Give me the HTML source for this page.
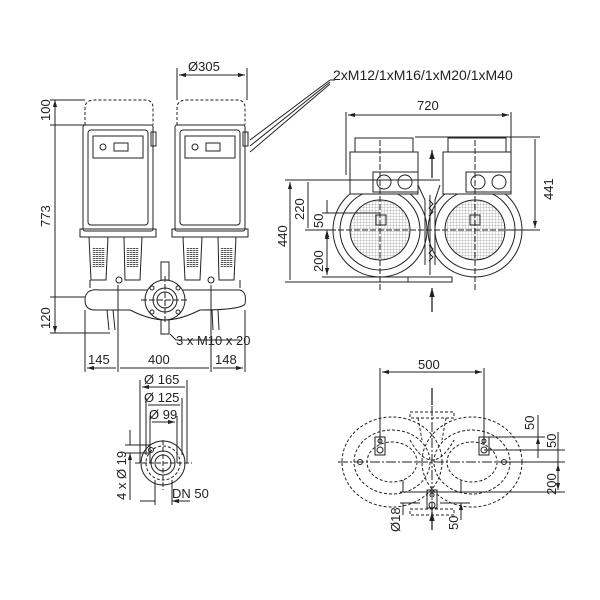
<!DOCTYPE html>
<html><head><meta charset="utf-8"><style>
html,body{margin:0;padding:0;background:#fff}
svg{display:block}
text{font-family:"Liberation Sans",sans-serif;font-size:13px;fill:#222}
</style></head><body>
<svg width="600" height="600" viewBox="0 0 600 600" xmlns="http://www.w3.org/2000/svg">
<defs>
<marker id="a" viewBox="0 0 10 10" refX="10" refY="5" markerWidth="7" markerHeight="7" orient="auto-start-reverse"><path d="M0,2 L10,5 L0,8 z" fill="#222"/></marker>
<pattern id="g" width="3" height="3" patternUnits="userSpaceOnUse"><path d="M0,0 H3 M0,0 V3" stroke="#777" stroke-width="0.5"/></pattern>
</defs>
<g fill="none" stroke="#222" stroke-width="1">
<path d="M85,125 V108 Q85,100 95,100 H145 Q153,100 153,108 V125" stroke-dasharray="3,2"/>
<path d="M177,125 V108 Q177,100 187,100 H237 Q245,100 245,108 V125" stroke-dasharray="3,2"/>
<rect x="83" y="125" width="70" height="106" rx="2"/>
<rect x="175" y="125" width="70" height="106" rx="2"/>
<rect x="88" y="130" width="60" height="95" rx="3"/>
<rect x="180" y="130" width="60" height="95" rx="3"/>
<rect x="93" y="136" width="50" height="22"/><rect x="185" y="136" width="50" height="22"/>
<circle cx="103" cy="147" r="3"/><rect x="114" y="143" width="14" height="8"/>
<circle cx="195" cy="147" r="3"/><rect x="206" y="143" width="14" height="8"/>
<rect x="151" y="132" width="5" height="14"/><rect x="243" y="132" width="5" height="14"/>
<rect x="80" y="229" width="76" height="8"/><rect x="172" y="229" width="76" height="8"/>
<path d="M89,237 L91,280 H106 L108,237 M124,237 L125,280 H140 L142,237 M183,237 L185,280 H200 L202,237 M218,237 L219,280 H234 L236,237"/>
<g stroke="#555" stroke-width="2.5" stroke-dasharray="1,1">
<path d="M94,248 V268 M97,248 V268 M100,248 V268 M103,248 V268 M128,248 V268 M131,248 V268 M134,248 V268 M137,248 V268 M188,248 V268 M191,248 V268 M194,248 V268 M197,248 V268 M222,248 V268 M225,248 V268 M228,248 V268 M231,248 V268"/>
</g>
<path d="M90,280 V288 M240,280 V288"/>
<path d="M85,300 Q85,288 100,290 H240 Q247,292 245,304 Q240,310 200,310 Q180,320 165,320 Q150,320 130,310 H95 Q85,310 85,300 Z" fill="#fff"/>
<path d="M107,310 L109,330 M113,310 L115,330 M212,310 L213,330 M218,310 L219,330"/>
<circle cx="165" cy="300" r="20" fill="#fff"/><circle cx="165" cy="300" r="12"/><circle cx="165" cy="300" r="8"/>
<circle cx="152" cy="288" r="2"/><circle cx="178" cy="288" r="2"/><circle cx="152" cy="312" r="2"/><circle cx="178" cy="312" r="2"/>
<rect x="161" y="262" width="8" height="18"/><rect x="161" y="320" width="8" height="14"/>
<circle cx="119" cy="280" r="3"/><circle cx="211" cy="280" r="3"/>
<path d="M141,300 H189 M165,276 V324" stroke-dasharray="6,2"/>
<path d="M50,100 H85 M50,125 H85 M50,297 H85 M50,333 H110 M177,68 V100 M247,68 V100"/>
<path d="M55,100 V125 M55,125 V297 M55,297 V333" marker-start="url(#a)" marker-end="url(#a)"/>
<path d="M179,75 H245" marker-start="url(#a)" marker-end="url(#a)"/>
<path d="M85,310 V372 M118,285 V372 M211,285 V372 M245,310 V372"/>
<path d="M87,368 H116 M120,368 H209 M213,368 H243" marker-start="url(#a)" marker-end="url(#a)"/>
<path d="M250,140 L330,80 M250,146 L330,82 M250,152 L330,84 M330,80 H335"/>
<path d="M170,334 L176,340 H240" />
<path d="M346,112 V175 M511,112 V175"/>
<path d="M348,115 H509" marker-start="url(#a)" marker-end="url(#a)"/>
<circle cx="380" cy="230" r="47"/><circle cx="380" cy="230" r="40"/><circle cx="380" cy="230" r="30" fill="url(#g)"/>
<circle cx="475" cy="230" r="47"/><circle cx="475" cy="230" r="40"/><circle cx="475" cy="230" r="30" fill="url(#g)"/>
<rect x="350" y="152" width="68" height="42" fill="#fff"/><rect x="355" y="138" width="58" height="14"/>
<rect x="443" y="152" width="68" height="42" fill="#fff"/><rect x="448" y="138" width="58" height="14"/>
<rect x="373" y="172" width="45" height="20"/><rect x="466" y="172" width="45" height="20"/>
<circle cx="384" cy="182" r="7"/><circle cx="405" cy="182" r="7"/><circle cx="478" cy="182" r="7"/><circle cx="499" cy="182" r="7"/>
<rect x="376" y="215" width="10" height="10"/><rect x="470" y="215" width="10" height="10"/>
<path d="M418,185 L425,200 V265 M440,185 L435,200 V265" />
<path d="M430,195 V275 M429,200 l4,4 -4,4 4,4 -4,4 M429,245 l4,4 -4,4 4,4 -4,4"/>
<rect x="408" y="277" width="44" height="5"/>
<path d="M432,178 V150" stroke-width="1.3" marker-end="url(#a)"/>
<path d="M432,312 V288" stroke-width="1.3" marker-end="url(#a)"/>
<path d="M380,140 V290 M475,140 V290 M330,230 H540" stroke-dasharray="6,2"/>
<path d="M285,180 H440 M285,282 H410 M305,230 H330 M322,213 H380 M322,277 H410 M415,137 H540 M510,230 H540"/>
<path d="M290,182 V280 M308,182 V228 M535,139 V228" marker-start="url(#a)" marker-end="url(#a)"/>
<path d="M327,200 V213 M327,243 V230" marker-end="url(#a)"/>
<path d="M327,232 V275" marker-start="url(#a)" marker-end="url(#a)"/>
<circle cx="163" cy="463" r="22"/><circle cx="163" cy="463" r="17" stroke-dasharray="3,2"/><circle cx="163" cy="463" r="12"/><circle cx="163" cy="463" r="8"/>
<circle cx="151" cy="450" r="2.5"/>
<path d="M140,380 V463 M187,380 V463 M146,398 V455 M182,398 V455 M150,416 V463 M177,416 V463 M155,480 V505 M172,480 V505"/>
<path d="M142,387 H185 M148,405 H180 M152,422 H175" marker-start="url(#a)" marker-end="url(#a)"/>
<path d="M125,445 H150 M125,453 H150"/>
<path d="M130,430 V445 M130,465 V453" marker-end="url(#a)"/>
<path d="M130,453 V500"/>
<path d="M140,501 H155 M190,501 H172" marker-end="url(#a)"/>
<path d="M135,463 H192 M163,440 V490" stroke-dasharray="5,2"/>
<path d="M380,368 V445 M484,368 V445"/>
<path d="M382,372 H482" marker-start="url(#a)" marker-end="url(#a)"/>
<path d="M338,462 H528 M432,390 V530" stroke-dasharray="10,2,2,2"/>
<path d="M432,405 V388 M432,530 V512" stroke-width="1.3" marker-end="url(#a)"/>
<g stroke-dasharray="3,2">
<ellipse cx="392" cy="462" rx="50" ry="45"/><ellipse cx="472" cy="462" rx="50" ry="45"/>
<ellipse cx="392" cy="462" rx="38" ry="32"/><ellipse cx="472" cy="462" rx="38" ry="32"/>
<ellipse cx="392" cy="462" rx="25" ry="20"/><ellipse cx="472" cy="462" rx="25" ry="20"/>
<rect x="410" y="412" width="44" height="6"/><rect x="410" y="509" width="44" height="6"/>
<path d="M418,418 L422,440 M446,418 L442,440 M410,440 Q432,480 454,440"/>
</g>
<rect x="375" y="437" width="10" height="18"/><rect x="479" y="437" width="10" height="18"/>
<circle cx="380" cy="441" r="2"/><circle cx="380" cy="450" r="3"/><circle cx="484" cy="441" r="2"/><circle cx="484" cy="450" r="3"/>
<circle cx="360" cy="462" r="2.5"/><circle cx="504" cy="462" r="2.5"/>
<rect x="427" y="490" width="10" height="18"/><circle cx="432" cy="495" r="2"/><circle cx="432" cy="505" r="3"/>
<path d="M484,437 H545 M484,450 H565 M500,462 H565 M400,492 H565 M400,503 H420 M440,503 H470"/>
<path d="M538,415 V437 M558,470 V450 M538,458 V437" marker-end="url(#a)"/>
<path d="M558,452 V432"/>
<path d="M558,464 V490" marker-start="url(#a)" marker-end="url(#a)"/>
<path d="M403,480 V492 M403,515 V503 M461,480 V492 M461,520 V503" marker-end="url(#a)"/>
</g>
<text x="188" y="71">Ø305</text>
<text transform="translate(50,121) rotate(-90)">100</text>
<text transform="translate(50,227) rotate(-90)">773</text>
<text transform="translate(50,329) rotate(-90)">120</text>
<text x="88" y="364">145</text>
<text x="148" y="364">400</text>
<text x="215" y="364">148</text>
<text x="176" y="345">3 x M10 x 20</text>
<text x="333" y="80" style="font-size:14px">2xM12/1xM16/1xM20/1xM40</text>
<text x="417" y="110">720</text>
<text transform="translate(553,200) rotate(-90)">441</text>
<text transform="translate(287,247) rotate(-90)">440</text>
<text transform="translate(304,220) rotate(-90)">220</text>
<text transform="translate(323,228) rotate(-90)">50</text>
<text transform="translate(323,272) rotate(-90)">200</text>
<text x="144" y="384">Ø 165</text>
<text x="144" y="402">Ø 125</text>
<text x="149" y="419">Ø 99</text>
<text transform="translate(126,500) rotate(-90)">4 x Ø 19</text>
<text x="172" y="498">DN 50</text>
<text x="418" y="369">500</text>
<text transform="translate(534,430) rotate(-90)">50</text>
<text transform="translate(556,448) rotate(-90)">50</text>
<text transform="translate(556,495) rotate(-90)">200</text>
<text transform="translate(400,532) rotate(-90)">Ø18</text>
<text transform="translate(458,530) rotate(-90)">50</text>
</svg>
</body></html>
